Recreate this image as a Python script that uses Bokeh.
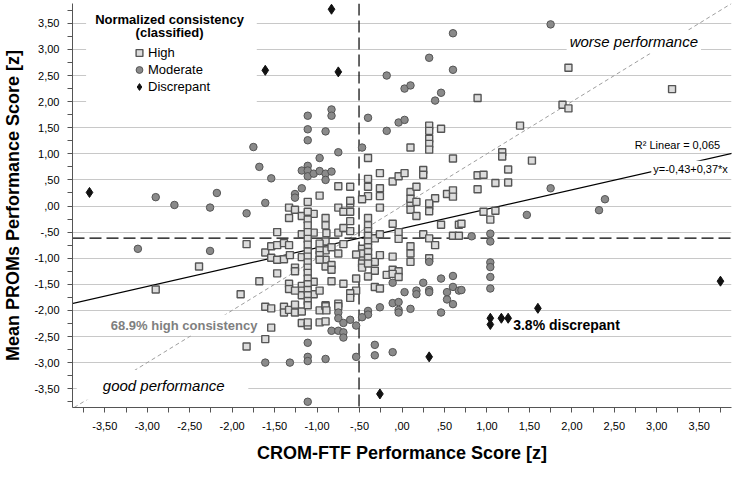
from bokeh.plotting import figure
from bokeh.models import (FixedTicker, Span, Slope, Label, Legend, LegendItem,
                          BoxAnnotation)
from bokeh.embed import file_html
from bokeh.resources import INLINE

FONT = "Liberation Sans"

# ---------------- data ----------------
# High consistency (squares)
high_pts = [
    (-2.39, -1.16), (-2.90, -1.60), (-1.90, -1.69), (-1.83, -0.73),
    (-1.47, -0.50), (-1.68, -1.44), (-1.47, -1.29), (-1.61, -0.89), (-1.54, -0.77),
    (-1.47, -0.75), (-1.39, -0.71), (-1.33, -0.75), (-1.54, -0.99), (-1.47, -1.03),
    (-1.39, -1.02), (-1.32, -0.94), (-1.33, -0.23), (-1.33, -0.03), (-1.26, -0.07),
    (-1.18, -0.19), (-1.04, -0.15), (-1.18, -0.54), (-1.04, -0.51), (-1.26, -1.18),
    (-1.26, -1.25), (-1.18, -0.98), (-1.18, -1.53), (-1.18, -1.62), (-1.18, -1.71),
    (-1.33, -1.49), (-1.33, -1.59), (-1.26, -1.62), (-1.04, -1.45), (-1.04, -1.69),
    (-0.97, -1.62), (-1.61, -1.93), (-1.54, -1.96), (-1.39, -1.93), (-1.39, -2.04),
    (-1.33, -1.99), (-1.26, -1.89), (-1.26, -2.04), (-1.18, -2.02), (-0.97, -2.00),
    (-0.90, -1.90), (-1.18, -2.24), (-1.11, -2.29), (-0.97, -2.23), (-1.54, -2.33),
    (-1.61, -2.55), (-1.83, -2.69),
    (-0.90, -0.23), (-0.90, -0.37), (-0.90, -0.68), (-0.90, -0.85), (-0.90, -1.03),
    (-0.90, -1.16), (-0.90, -1.92), (-0.90, -2.21), (-0.97, -0.72), (-0.97, -0.85),
    (-0.97, -0.94), (-0.97, -1.03), (-0.97, 0.20),
    (-0.75, -0.03), (-0.69, -0.11), (-0.61, -0.11), (-0.61, 0.05), (-0.89, -0.52),
    (-0.75, -0.51), (-0.69, -0.42), (-0.61, -0.48), (-0.61, -0.29), (-0.83, -0.79),
    (-0.75, -0.91), (-0.69, -0.73), (-0.83, -1.13), (-0.83, -1.22),
    (-0.47, -0.82), (-0.47, -0.91), (-0.47, -1.10), (-0.47, -1.18),
    (-0.54, -0.93), (-0.54, -1.39), (-0.54, -1.62), (-0.32, -0.62), (-0.32, -1.07),
    (-0.32, -1.24), (-0.32, -1.55), (-0.26, -0.54), (-0.26, -0.94), (-0.26, -1.58),
    (-0.11, -0.34), (-0.04, -0.50), (-0.04, -0.63), (-0.11, -0.97), (-0.11, -1.22),
    (-0.04, -1.25), (-0.18, -1.32), (-0.11, -1.30), (-0.04, -1.36),
    (0.10, -0.77), (0.10, -0.91), (0.10, -1.07), (0.25, -0.54), (0.32, -0.62),
    (0.39, -0.75), (0.32, -1.00), (0.46, -0.36), (0.60, -0.57), (0.67, -0.57),
    (0.67, -0.36), (0.10, 0.05), (0.10, -0.07), (0.17, -0.19), (0.32, 0.00),
    (0.32, -0.10), (-0.26, -0.03), (-0.83, -1.44), (-0.75, -1.87), (-0.75, -1.92),
    (-0.69, -1.49), (-0.61, -1.67), (-0.61, -1.76), (-0.89, -2.00),
    (0.32, 1.54), (0.32, 1.44), (0.32, 1.29), (0.32, 1.19), (0.32, 1.08), (0.46, 1.48),
    (0.10, 1.12), (-0.40, 0.92), (0.60, 0.91), (-0.26, 0.63), (-0.11, 0.47),
    (-0.04, 0.57), (0.03, 0.63), (0.25, 0.69), (0.25, 0.60), (-0.40, 0.52),
    (-0.40, 0.37), (-0.40, 0.19), (-0.26, 0.34), (-0.26, 0.19), (-0.75, 0.38),
    (-0.61, 0.37), (0.10, 0.27), (0.17, 0.37), (0.10, 0.14), (0.17, 0.08),
    (0.39, 0.15), (0.53, 0.23), (0.60, 0.30), (0.60, 0.18), (-0.47, 0.13),
    (-0.61, 0.10), (0.32, 0.05),
    (0.89, 2.07), (1.18, 1.03), (1.18, 0.95), (1.53, 0.87), (1.25, 0.70), (0.89, 0.59),
    (0.96, 0.60), (1.10, 0.44), (1.25, 0.45), (0.89, 0.32), (1.96, 2.65), (3.18, 2.24),
    (1.89, 1.94), (1.96, 1.87), (1.39, 1.54),
    (0.70, -0.34), (0.96, -0.11), (1.10, -0.09), (1.04, -0.26),
]
# two dense vertical columns of high-consistency cases
col_a_x = -1.11
col_a_y = [0.08, -0.11, -0.26, -0.37, -0.50, -0.63, -0.74, -0.87, -0.97, -1.08,
           -1.18, -1.28, -1.39, -1.50, -1.61, -1.71, -1.82, -1.90, -2.23]
col_b_x = -0.40
col_b_y = [-0.23, -0.37, -0.48, -0.57, -0.68, -0.79, -0.88, -0.99, -1.10, -1.35]

# Moderate consistency (circles)
mod_pts = [
    (-2.90, 0.17), (-2.68, 0.02), (-2.26, -0.03), (-2.18, 0.25), (-1.83, -0.14),
    (-3.11, -0.82), (-2.26, -0.86),
    (-1.11, 1.73), (-1.11, 1.47), (-1.11, 1.26), (-0.90, 1.43), (-1.75, 1.13),
    (-1.68, 0.75), (-1.54, 0.53), (-0.97, 0.92), (-1.18, 0.68), (-1.11, 0.77),
    (-1.11, 0.68), (-1.11, 0.57), (-1.04, 0.62), (-0.97, 0.67), (-0.90, 0.62),
    (-0.90, 0.50), (-1.18, 0.34), (-1.26, 0.23), (-1.26, 0.16), (-1.61, 0.06),
    (-1.11, -2.62), (-1.61, -3.00), (-1.32, -3.00), (-1.11, -2.89), (-1.11, -2.97),
    (-0.90, -2.93), (-1.11, -3.75),
    (0.60, 3.31), (0.32, 2.84), (0.60, 2.61), (-0.18, 2.50), (0.03, 2.25), (0.10, 2.31),
    (0.46, 2.17), (0.39, 2.02), (-0.83, 1.85), (-0.83, 1.73), (-0.40, 1.69),
    (-0.04, 1.60), (0.03, 1.65), (-0.18, 1.44), (-0.47, 1.12), (-0.75, 1.03),
    (-0.83, 0.66),
    (0.32, -1.07), (-0.11, -1.47), (0.25, -1.47), (0.03, -1.65), (0.17, -1.62),
    (0.17, -1.69), (0.32, -1.61), (0.32, -1.65), (0.46, -1.39), (0.60, -1.34),
    (0.60, -1.55), (0.67, -1.62), (0.53, -1.65), (0.53, -1.79), (0.60, -1.88),
    (0.46, -2.04), (-0.26, -1.94), (-0.11, -1.86), (-0.04, -1.84), (-0.04, -1.99),
    (-0.04, -2.04), (0.10, -1.97), (-0.40, -2.01), (-0.40, -2.08), (-0.47, -2.13),
    (-0.75, -2.04), (-0.75, -2.15), (-0.61, -2.18), (-0.69, -2.24), (-0.54, -2.29),
    (-0.83, -2.39), (-0.75, -2.39), (-0.69, -2.42), (-0.69, -2.52), (-0.32, -2.66),
    (-0.32, -2.86), (-0.11, -2.80), (-0.54, -2.89),
    (1.75, 3.48), (1.75, 0.34), (1.47, -0.17), (2.32, -0.08), (2.39, 0.13),
    (0.82, -0.58), (1.04, -0.53), (1.04, -0.68), (1.04, -1.08), (1.04, -1.17),
    (1.04, -1.36), (1.04, -1.58), (0.70, -1.61),
]

# Discrepant (diamonds)
disc_x = [-3.68, -1.61, -0.83, -0.75, 0.32, -0.26, 1.04, 1.04, 1.17, 1.25, 1.60, 3.75]
disc_y = [0.26, 2.60, 3.77, 2.57, -2.89, -3.60, -2.15, -2.27, -2.15, -2.15, -1.96, -1.44]

high_x = [a for a, b in high_pts] + [col_a_x] * len(col_a_y) + [col_b_x] * len(col_b_y)
high_y = [b for a, b in high_pts] + col_a_y + col_b_y
mod_x = [a for a, b in mod_pts]
mod_y = [b for a, b in mod_pts]

# reference lines
mean_x = -0.506
mean_y = -0.615
reg_intercept = -0.43
reg_slope = 0.37

ticks = [-3.5, -3.0, -2.5, -2.0, -1.5, -1.0, -0.5, 0.0, 0.5, 1.0, 1.5, 2.0, 2.5, 3.0, 3.5]
tick_labels = ["-3,50", "-3,00", "-2,50", "-2,00", "-1,50", "-1,00", "-,50", ",00",
               ",50", "1,00", "1,50", "2,00", "2,50", "3,00", "3,50"]
minor = [t + 0.25 for t in ticks] + [-3.75]

# ---------------- figure ----------------
p = figure(width=733, height=465, x_range=(-3.88, 3.88), y_range=(-3.86, 3.88),
           output_backend="svg", toolbar_location=None,
           min_border_left=68, min_border_right=2, min_border_top=3,
           min_border_bottom=58)
p.outline_line_color = None
p.background_fill_color = "white"
p.border_fill_color = "white"

overrides = {t: l for t, l in zip(ticks, tick_labels)}
for ax in (p.xaxis[0], p.yaxis[0]):
    ax.ticker = FixedTicker(ticks=ticks, minor_ticks=minor)
    ax.major_label_overrides = overrides
    ax.major_label_text_font = FONT
    ax.major_label_text_font_size = "11px"
    ax.major_label_text_color = "black"
    ax.axis_label_text_font = FONT
    ax.axis_label_text_font_style = "bold"
    ax.axis_label_text_font_size = "18px"
    ax.axis_label_text_color = "black"
    ax.axis_line_color = "#555555"
    ax.major_tick_line_color = "#555555"
    ax.minor_tick_line_color = "#555555"
    ax.major_tick_out = 5
    ax.major_tick_in = 0
    ax.minor_tick_out = 5
    ax.minor_tick_in = 0

p.xaxis.axis_label = "CROM-FTF Performance Score [z]"
p.yaxis.axis_label = "Mean PROMs Performance Score [z]"
p.xaxis.major_label_standoff = 9
p.xaxis.axis_label_standoff = 10
p.yaxis.major_label_standoff = 8
p.yaxis.axis_label_standoff = 8

p.xgrid.grid_line_color = None
p.ygrid.grid_line_color = "#c8c8c8"
p.ygrid.grid_line_width = 1

# white box behind legend (hides grid lines)
p.add_layout(BoxAnnotation(left=-3.72, right=-1.71, bottom=1.80, fill_color="white",
                           fill_alpha=1, line_color=None, level="underlay"))

# reference lines
p.add_layout(Slope(gradient=1, y_intercept=0, line_color="#9e9e9e", line_dash="4 3",
                   line_width=1, level="underlay"))
p.add_layout(Span(location=mean_x, dimension="height", line_color="black",
                  line_dash="12 5", line_width=1.2, level="underlay"))
p.add_layout(Span(location=mean_y, dimension="width", line_color="black",
                  line_dash="12 5", line_width=1.2, level="underlay"))
p.add_layout(Slope(gradient=reg_slope, y_intercept=reg_intercept, line_color="black",
                   line_width=1.2, level="underlay"))
# white box behind "good performance"
p.add_layout(BoxAnnotation(left=-3.83, right=-1.81, bottom=-3.71, top=-3.14,
                           fill_color="white", fill_alpha=1, line_color=None,
                           level="underlay"))

r_high = p.scatter(high_x, high_y, marker="square", size=7, fill_color="#dcdcdc",
                   line_color="#555555", line_width=1.4)
r_mod = p.scatter(mod_x, mod_y, marker="circle", size=7.5, fill_color="#8a8a8a",
                  line_color="#555555", line_width=1)
r_disc = p.scatter(disc_x, disc_y, marker="diamond", size=10, fill_color="#111111",
                   line_color="#111111", line_width=1)

legend = Legend(items=[LegendItem(label="High", renderers=[r_high]),
                       LegendItem(label="Moderate", renderers=[r_mod]),
                       LegendItem(label="Discrepant", renderers=[r_disc])],
                location=(58, 312), orientation="vertical",
                glyph_width=18, glyph_height=17, label_height=17, spacing=0,
                label_standoff=0, padding=0, margin=0,
                background_fill_alpha=0, border_line_color=None,
                label_text_font=FONT, label_text_font_size="13px",
                label_text_color="black")
p.add_layout(legend)

def add_label(x, y, text, size, style="normal", color="black", bg=None, pad=0):
    kw = dict(x=x, y=y, text=text, text_font=FONT, text_font_size=size,
              text_font_style=style, text_color=color, text_align="center",
              text_baseline="middle")
    if bg:
        kw.update(background_fill_color=bg, background_fill_alpha=1, padding=pad)
    p.add_layout(Label(**kw))

add_label(-2.737, 3.583, "Normalized consistency", "13px", "bold")
add_label(-2.737, 3.318, "(classified)", "13px", "bold")
add_label(2.73, 3.145, "worse performance", "15px", "italic", bg="white", pad=3)
add_label(-2.806, -3.44, "good performance", "15px", "italic")
add_label(-2.566, -2.28, "68.9% high consistency", "13px", "bold", color="#7f7f7f",
          bg="white", pad=3)
add_label(1.937, -2.28, "3.8% discrepant", "14px", "bold")
add_label(3.244, 1.176, "R\u00b2 Linear = 0,065", "11px", bg="white", pad=2)
add_label(3.398, 0.713, "y=-0,43+0,37*x", "11px", bg="white", pad=2)

open("out.html", "w").write(file_html(p, INLINE))
